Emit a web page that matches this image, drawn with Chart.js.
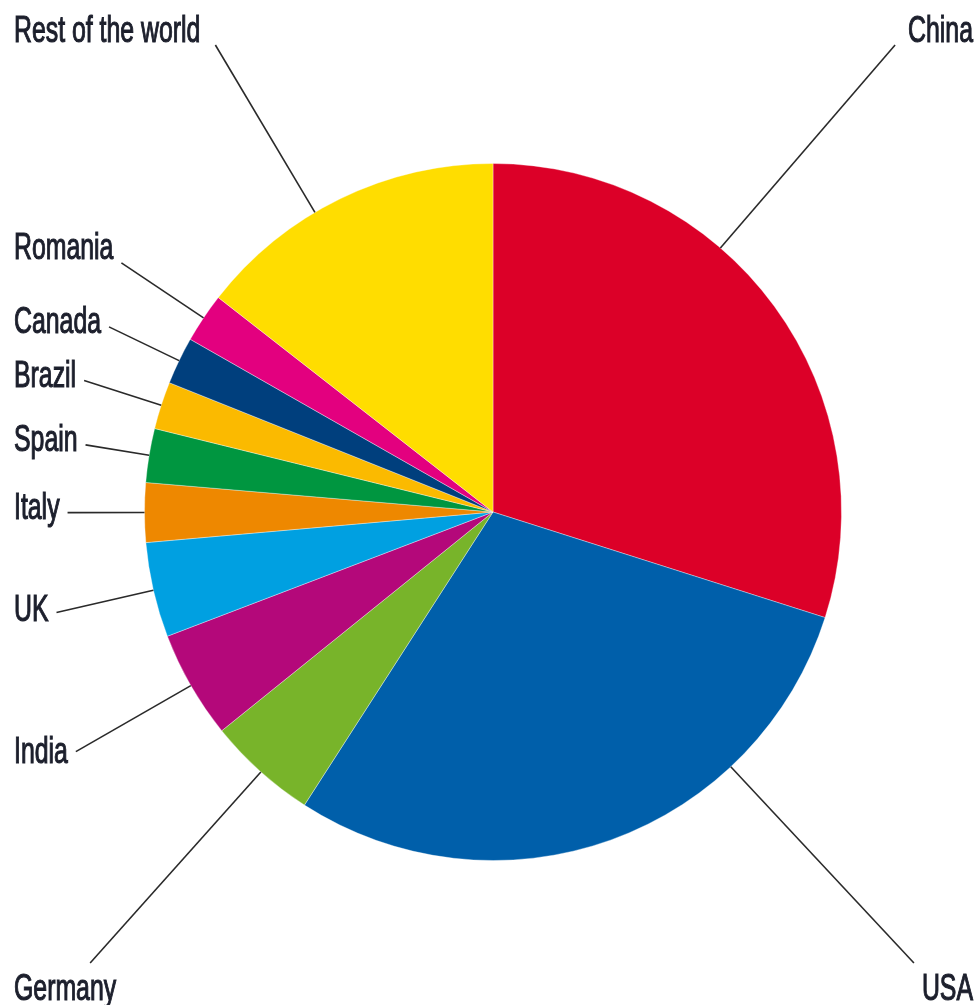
<!DOCTYPE html>
<html>
<head>
<meta charset="utf-8">
<script src="https://cdn.jsdelivr.net/npm/chart.js@4"></script>
<style>
    html, body { margin: 0; padding: 0; background: #fff; }
    #box { width: 978px; height: 1005px; position: relative; }
</style>
</head>
<body>
<div id="box"><canvas id="windShareChart"></canvas></div>
<script>
var countries = ["China", "USA", "Germany", "India", "UK", "Italy", "Spain", "Brazil", "Canada", "Romania", "Rest of the world"];
var shares = [29.9, 29.2, 5.1, 5.0, 4.4, 2.75, 2.5, 2.2, 2.2, 2.3, 14.45];
var sliceColors = ["#dc0028", "#005faa", "#78b42a", "#b4087a", "#00a0e1", "#ee8800", "#009640", "#fbba00", "#003f7d", "#e3007f", "#ffdd00"];

// where each label goes: corners for the big ones, left column for the rest
var cornerOf = { "China": "tr", "USA": "br", "Germany": "bl", "Rest of the world": "tl" };
var nudge = { "Romania": -10, "UK": 3, "India": 5 };

var squeeze = 0.69;

function drawText(ctx, text, x, y, align) {
    ctx.save();
    ctx.translate(x, y);
    ctx.scale(squeeze, 1);
    ctx.textAlign = align;
    ctx.textBaseline = 'alphabetic';
    ctx.lineWidth = 1.1;
    ctx.strokeStyle = ctx.fillStyle;
    ctx.strokeText(text, 0, 0);
    ctx.fillText(text, 0, 0);
    ctx.restore();
}

var leaderLabels = {
    id: 'leaderLabels',
    afterDraw: function (chart) {
        var ctx = chart.ctx;
        var meta = chart.getDatasetMeta(0);
        var W = chart.width, H = chart.height;
        var left = 14, right = W - 5, top = 42, bottom = H - 5;

        ctx.save();
        ctx.font = '36px "Liberation Sans", Arial, sans-serif';
        ctx.fillStyle = '#1c1f2c';

        for (var i = 0; i < meta.data.length; i++) {
            var arc = meta.data[i];
            var cx = arc.x, cy = arc.y, r = arc.outerRadius;
            var text = chart.data.labels[i];
            var w = ctx.measureText(text).width * squeeze;
            var ax, ay;
            var corner = cornerOf[text];

            if (corner == "tl") {
                drawText(ctx, text, left, top, 'left');
                ax = left + w + 15; ay = top + 3;
            }
            else if (corner == "tr") {
                drawText(ctx, text, right, top, 'right');
                ax = right - w - 13; ay = top + 3;
            }
            else if (corner == "bl") {
                drawText(ctx, text, left, bottom, 'left');
                ax = left + w - 26; ay = bottom - 37;
            }
            else if (corner == "br") {
                drawText(ctx, text, right, bottom, 'right');
                ax = right - w - 8; ay = bottom - 37;
            }
            else {
                var mid = (arc.startAngle + arc.endAngle) / 2;
                ax = left + w + 8;
                var t = (ax - cx) / Math.cos(mid);
                ay = cy + Math.sin(mid) * t;
                drawText(ctx, text, left, ay + 6 + (nudge[text] || 0), 'left');
            }

            // leader line from the label anchor toward the centre, stopping at the rim
            var a = Math.atan2(ay - cy, ax - cx);
            ctx.strokeStyle = '#2a2a2a';
            ctx.lineWidth = 1.6;
            ctx.beginPath();
            ctx.moveTo(ax, ay);
            ctx.lineTo(cx + Math.cos(a) * r, cy + Math.sin(a) * r);
            ctx.stroke();
        }
        ctx.restore();
    }
};

var windShareChart = new Chart("windShareChart", {
    type: "pie",
    data: {
        labels: countries,
        datasets: [{
            data: shares,
            backgroundColor: sliceColors,
            borderColor: 'rgba(255,255,255,0.35)',
            borderWidth: 1
        }]
    },
    options: {
        responsive: true,
        maintainAspectRatio: false,
        animation: false,
        layout: {
            padding: { left: 144, right: 136, top: 163, bottom: 144 }
        },
        plugins: {
            legend: { display: false },
            tooltip: { enabled: false }
        }
    },
    plugins: [leaderLabels]
});
</script>
</body>
</html>
